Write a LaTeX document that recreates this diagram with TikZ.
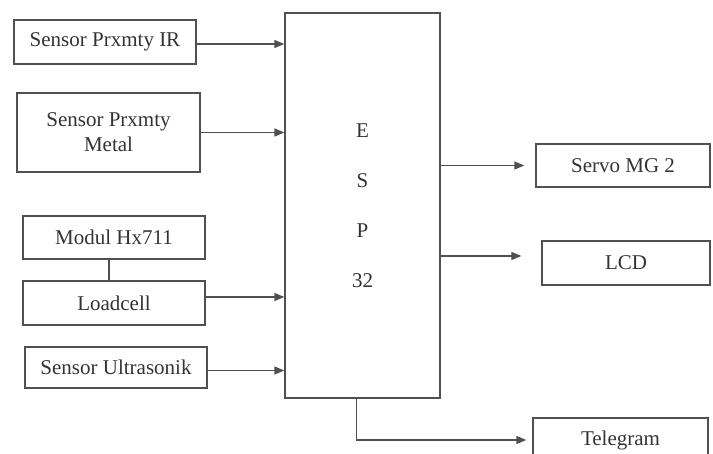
\documentclass[tikz,border=0pt]{standalone}
\usepackage{fontspec}
\setmainfont{Liberation Serif}
\usetikzlibrary{arrows.meta}
\definecolor{garis}{HTML}{505050}
\definecolor{teks}{HTML}{333333}
\begin{document}
\begin{tikzpicture}[x=1pt,y=-1pt,
    blok/.style={rectangle,draw=garis,line width=1.3pt,text=teks,inner sep=0pt,
        font=\fontsize{21}{25}\selectfont,align=center},
    panah/.style={draw=garis,line width=1.3pt,-{Triangle[length=10pt,width=8pt]}}]
    \useasboundingbox (0,0) rectangle (713,454);
    \clip (0,0) rectangle (713,454);
    % input
    \node[blok,minimum width=182pt,minimum height=44pt] (ir) at (105,42) {Sensor Prxmty IR};
    \node[blok,minimum width=183pt,minimum height=79pt] (metal) at (108.5,132.5) {Sensor Prxmty\\Metal};
    \node[blok,minimum width=182pt,minimum height=43pt] (hx) at (114,237.5) {Modul Hx711};
    \node[blok,minimum width=182pt,minimum height=44pt] (load) at (114,303) {Loadcell};
    \node[blok,minimum width=182pt,minimum height=41pt] (ultra) at (116,367.5) {Sensor Ultrasonik};
    % mikrokontroler
    \node[blok,minimum width=155pt,minimum height=385pt,font=\fontsize{21}{50}\selectfont] (esp) at (362.5,205.5) {E\\S\\P\\32};
    % output
    \node[blok,minimum width=174pt,minimum height=43pt] (servo) at (623,165.5) {Servo MG 2};
    \node[blok,minimum width=168pt,minimum height=44pt] (lcd) at (626,263) {LCD};
    \node[blok,minimum width=175pt,minimum height=44pt] (tele) at (620.5,440) {Telegram};
    \coordinate (loadout) at ([yshift=6pt]load.east);
    \coordinate (servoin) at ([xshift=-11pt]servo.west);
    \coordinate (lcdin) at ([shift={(-20,-7)}]lcd.west);
    \coordinate (espout) at ([xshift=-6pt]esp.south);
    \draw[garis,line width=1.3pt] ([xshift=-5pt]hx.south) -- ([xshift=-5pt]load.north);
    \draw[panah] ([yshift=-2pt]ir.east) -- ([yshift=-2pt]ir.east -| esp.west);
    \draw[panah] (metal.east) -- (metal.east -| esp.west);
    \draw[panah] (loadout) -- (loadout -| esp.west);
    \draw[panah] ([yshift=-3pt]ultra.east) -- ([yshift=-3pt]ultra.east -| esp.west);
    \draw[panah] (esp.east |- servoin) -- (servoin);
    \draw[panah] (esp.east |- lcdin) -- (lcdin);
    \draw[panah] (espout) |- ([xshift=-6pt]tele.west);
\end{tikzpicture}
\end{document}
